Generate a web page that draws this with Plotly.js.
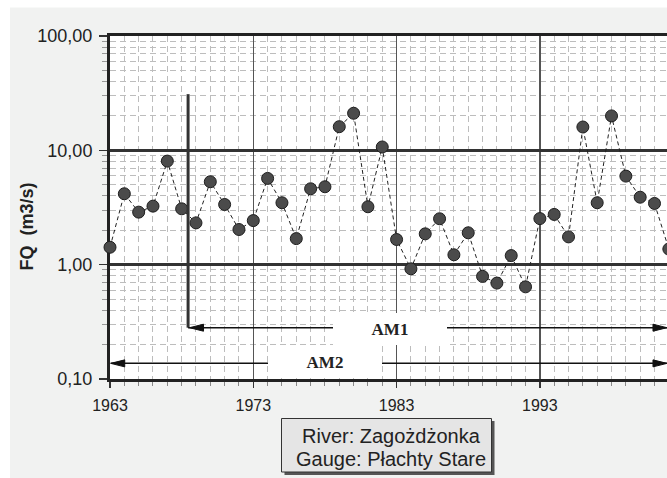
<!DOCTYPE html>
<html>
<head>
<meta charset="utf-8">
<script src="https://cdn.plot.ly/plotly-3.0.1.min.js"></script>
<style>html,body{margin:0;padding:0;background:#fff;overflow:hidden;}#chart{width:676px;height:478px;}</style>
</head>
<body>
<div id="chart"></div>
<script>
// ---- data ----
const years = [1963,1964,1965,1966,1967,1968,1969,1970,1971,1972,
               1973,1974,1975,1976,1977,1978,1979,1980,1981,1982,
               1983,1984,1985,1986,1987,1988,1989,1990,1991,1992,
               1993,1994,1995,1996,1997,1998,1999,2000,2001,2002];
const fq = [1.42,4.17,2.88,3.25,8.05,3.08,2.32,5.31,3.36,2.03,
            2.43,5.68,3.48,1.69,4.61,4.80,16.1,21.1,3.21,10.7,
            1.66,0.92,1.86,2.52,1.22,1.90,0.79,0.69,1.20,0.64,
            2.53,2.75,1.75,16.0,3.48,20.0,5.95,3.89,3.43,1.37];
const xTickVals = [1963,1973,1983,1993];
const xTickText = ['1963','1973','1983','1993'];
const yTickVals = [0.1,1,10,100];
const yTickText = ['0,10','1,00','10,00','100,00'];
const am1Start = 1968.45, am1Level = 0.281, am1Top = 31;
const am2Start = 1963.05, am2Level = 0.137;
const xStart = 1963, xAxisEnd = 2002.5;   // plot area runs slightly past the visible window
const arrowEnd = 2001.87;                  // right edge of the visible window
const boxLines = ['River: Zagożdżonka','Gauge: Płachty Stare'];

// minor ticks
const xMinor = [];
for (let y = 1963; y <= 2002; y++) if (xTickVals.indexOf(y) < 0) xMinor.push(y);
const yMinor = [];
[0.1,1,10].forEach(d => { for (let k = 2; k <= 9; k++) yMinor.push(+(d*k).toPrecision(3)); });

const font = 'Liberation Sans, Arial, sans-serif';
const FIG_W = 676, FIG_H = 478;
const L = 110, T = 36, H = 343, W = FIG_W - L;
const px = v => (v - L) / W;        // pixel x -> paper
const py = v => (T + H - v) / H;    // pixel y -> paper

const trace = {
  x: years, y: fq, type: 'scatter', mode: 'lines+markers',
  line: {color: '#222', width: 1, dash: '4px,3px'},
  marker: {size: 12, color: '#4b4b4b', line: {color: '#1e1e1e', width: 1}},
  cliponaxis: false, hoverinfo: 'skip'
};

const arrowHead = (x, y, dir) => ({
  type: 'path', xref: 'x', yref: 'y', xsizemode: 'pixel', ysizemode: 'pixel',
  xanchor: x, yanchor: y,
  path: dir > 0 ? 'M0,0 L-14,-3.5 L-14,3.5 Z' : 'M0,0 L14,-3.5 L14,3.5 Z',
  fillcolor: '#111', line: {color: '#111', width: 1}, layer: 'above'
});

const ann = (x, y, text, f, extra) => Object.assign({
  xref: 'paper', yref: 'paper', x: px(x), y: py(y), xanchor: 'center', yanchor: 'middle',
  text: text, showarrow: false, font: f
}, extra || {});

const amFont = {family: 'Liberation Serif, Times New Roman, serif', size: 17, weight: 'bold', color: '#222'};

const layout = {
  width: FIG_W, height: FIG_H,
  margin: {l: L, r: 0, t: T, b: FIG_H - T - H, pad: 0},
  paper_bgcolor: '#f1f2f1', plot_bgcolor: '#ffffff',
  showlegend: false,
  xaxis: {
    type: 'linear', range: [xStart, xAxisEnd], tickmode: 'array', tickvals: xTickVals, ticktext: xTickText,
    showgrid: true, gridcolor: '#555', gridwidth: 1.5, zeroline: false,
    showline: true, linecolor: '#222', linewidth: 3, mirror: true,
    ticks: 'outside', ticklen: 6, tickwidth: 1.5, tickcolor: '#333',
    tickfont: {family: font, size: 16, color: '#222'}, ticklabelstandoff: 4,
    minor: {tickmode: 'array', tickvals: xMinor, showgrid: true, gridcolor: '#bdbdbd', gridwidth: 1,
            griddash: '6px,4px', ticks: 'outside', ticklen: 4, tickcolor: '#888', tickwidth: 1},
    layer: 'below traces', fixedrange: true
  },
  yaxis: {
    type: 'log', range: [-1, 2], tickmode: 'array', tickvals: yTickVals, ticktext: yTickText,
    showgrid: true, gridcolor: '#333', gridwidth: 2.5, zeroline: false,
    showline: true, linecolor: '#222', linewidth: 3,
    ticks: 'outside', ticklen: 8, tickwidth: 1.5, tickcolor: '#333',
    tickfont: {family: font, size: 18, color: '#222'}, ticklabelstandoff: 3,
    minor: {tickmode: 'array', tickvals: yMinor, showgrid: true, gridcolor: '#bdbdbd', gridwidth: 1,
            griddash: '6px,4px', ticks: 'outside', ticklen: 5, tickcolor: '#999', tickwidth: 1},
    layer: 'below traces', fixedrange: true
  },
  shapes: [
    // white outer strips
    {type: 'rect', xref: 'paper', yref: 'paper', x0: px(-5), x1: px(10), y0: py(500), y1: py(-5),
     fillcolor: '#ffffff', line: {width: 0}, layer: 'below'},
    {type: 'rect', xref: 'paper', yref: 'paper', x0: px(-5), x1: px(700), y0: py(7.5), y1: py(-5),
     fillcolor: '#ffffff', line: {width: 0}, layer: 'below'},
    // AM1 vertical marker + arrow line
    {type: 'line', xref: 'x', yref: 'y', x0: am1Start, x1: am1Start, y0: am1Level, y1: am1Top,
     line: {color: '#333', width: 3}, layer: 'above'},
    {type: 'line', xref: 'x', yref: 'y', x0: am1Start, x1: arrowEnd, y0: am1Level, y1: am1Level,
     line: {color: '#111', width: 1.5}, layer: 'above'},
    arrowHead(am1Start + 0.1, am1Level, -1),
    arrowHead(arrowEnd, am1Level, 1),
    // AM2 arrow line
    {type: 'line', xref: 'x', yref: 'y', x0: am2Start, x1: arrowEnd, y0: am2Level, y1: am2Level,
     line: {color: '#111', width: 1.5}, layer: 'above'},
    arrowHead(am2Start, am2Level, -1),
    arrowHead(arrowEnd, am2Level, 1),
    // info box: shadow + box
    {type: 'rect', xref: 'paper', yref: 'paper', x0: px(284.5), x1: px(494.5), y0: py(475), y1: py(421),
     fillcolor: '#555', line: {width: 0}, layer: 'above'},
    {type: 'rect', xref: 'paper', yref: 'paper', x0: px(281.5), x1: px(491.5), y0: py(472), y1: py(418.5),
     fillcolor: '#e5e5e5', line: {color: '#333', width: 1}, layer: 'above'}
  ],
  annotations: [
    ann(390, 329, 'AM1', amFont, {width: 114, height: 32, bgcolor: '#ffffff', borderpad: 0, borderwidth: 0}),
    ann(324.7, 361.5, 'AM2', amFont, {width: 114, height: 32, bgcolor: '#ffffff', borderpad: 0, borderwidth: 0}),
    ann(26.5, 227, 'FQ\u00a0 (m3/s)', {family: font, size: 18, weight: 'bold', color: '#222'}, {textangle: -90}),
    ann(391, 435.5, boxLines[0], {family: font, size: 20, color: '#222'}),
    ann(391, 458.5, boxLines[1], {family: font, size: 20, color: '#222'})
  ]
};

Plotly.newPlot('chart', [trace], layout, {staticPlot: true, displayModeBar: false});
</script>
</body>
</html>
